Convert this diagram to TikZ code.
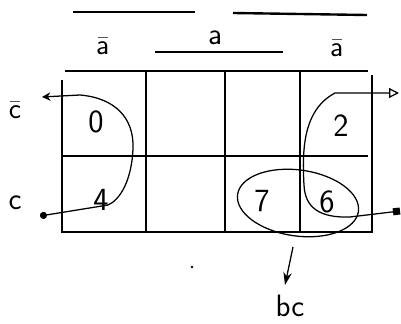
\documentclass[tikz,border=0pt]{standalone}
\usepackage{tikz}
\usetikzlibrary{arrows.meta, positioning, calc}

\begin{document}
\begin{tikzpicture}[x=0.25mm, y=-0.25mm,
  cell/.style={font=\sffamily\fontsize{23}{27}\selectfont, inner sep=1pt},
  lbl/.style={font=\sffamily\fontsize{22}{26}\selectfont, inner sep=1pt},
  gridline/.style={line width=1.7pt},
  ring/.style={line width=0.9pt}]
  \useasboundingbox (0,0) rectangle (401,324);
  % lines over the labels
  \draw[gridline] (73,12) -- (195,12);
  \draw[gridline] (233,13) -- (367,15);
  \node[lbl] (abar1) at (103,46) {$\bar{\mathsf{a}}$};
  \node[lbl] (aa) at (215,38) {a};
  \draw[gridline] (155,52) -- (283,52);
  \node[lbl] (abar2) at (337,48) {$\bar{\mathsf{a}}$};
  % grid
  \draw[gridline] (65,71) -- (368,71);
  \draw[gridline] (62,80) -- (62,232) -- (372,232) -- (372,75);
  \foreach \gx in {146,225,300}
    \draw[gridline] (\gx,72) -- (\gx,232);
  \draw[gridline] (62,156) -- (368,156);
  % cells
  \node[cell] (n0) at (96,122) {0};
  \node[cell] (n4) at (101,200) {4};
  \node[cell] (n2) at (341,126) {2};
  \node[cell] (n7) at (262,201) {7};
  \node[cell] (n6) at (327,202) {6};
  % row labels
  \node[lbl] (cbar) at (15,110) {$\bar{\mathsf{c}}$};
  \node[lbl] (c) at (15,203) {c};
  \node[lbl] (bc) at (290,306) {bc};
  % loop round 0 and 4
  \coordinate (lt) at (42,97);
  \coordinate (lb) at (40,216);
  \draw[ring, {Stealth[length=6pt,width=6pt]}-{Circle[length=5pt]}] (lt) -- (80,95)
    .. controls (115,98) and (134,118) .. (133,148)
    .. controls (132,180) and (120,200) .. (108,205) -- (lb);
  % loop round 2 and 6
  \coordinate (rt) at (399,93);
  \coordinate (rb) at (400,211);
  \draw[ring, {Square[length=5pt,width=5pt]}-{Triangle[open,length=7pt,width=7pt]}] (rb) -- (350,217)
    .. controls (320,218) and (305,208) .. (304,185)
    .. controls (302,150) and (303,110) .. (335,93) -- (rt);
  % ring round 7 and 6
  \draw[ring] (298,203) ellipse [x radius=61, y radius=33, rotate=-8];
  % pointer to bc
  \coordinate (bp) at (293,247);
  \draw[ring, -{Stealth[length=9pt,width=6pt]}] (bp) -- (285,285);
  \fill (192,267) circle (1pt);
\end{tikzpicture}
\end{document}
